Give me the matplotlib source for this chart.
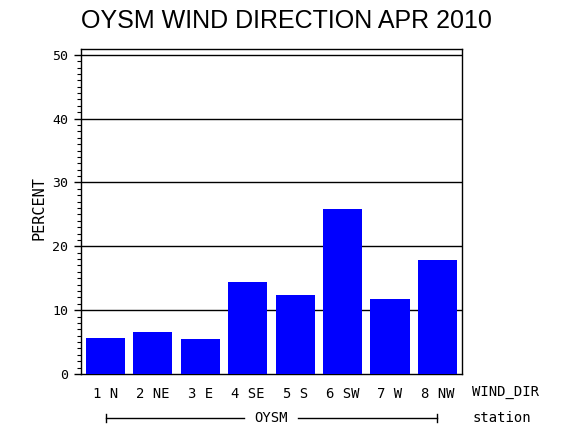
import matplotlib.pyplot as plt
from matplotlib.ticker import MultipleLocator
from matplotlib.transforms import blended_transform_factory

# ======== Data ========
directions = ["1 N", "2 NE", "3 E", "4 SE", "5 S", "6 SW", "7 W", "8 NW"]
percent = [5.6, 6.6, 5.5, 14.4, 12.4, 25.9, 11.8, 17.9]
station = "OYSM"
title = "OYSM WIND DIRECTION APR 2010"

MONO = "DejaVu Sans Mono"

# ======== Figure ========
fig = plt.figure(figsize=(5.7, 4.3), dpi=100)
ax = fig.add_axes([0.142, 0.1302, 0.6685, 0.7558])

xs = list(range(len(directions)))
ax.bar(xs, percent, width=0.825, color="#0000ff", zorder=3)

ax.set_xlim(-0.518, len(directions) - 1 + 0.518)
ax.set_ylim(0, 50.9)

# grid lines at major ticks (not on the zero line)
for y in range(10, 51, 10):
    ax.axhline(y, color="black", linewidth=1.0, zorder=1)

ax.yaxis.set_major_locator(MultipleLocator(10))
ax.yaxis.set_minor_locator(MultipleLocator(1))
ax.tick_params(axis="y", which="major", length=5, width=1, pad=4,
               labelsize=9.5, direction="out")
ax.tick_params(axis="y", which="minor", length=3, width=0.8, direction="out")
for lab in ax.get_yticklabels():
    lab.set_family(MONO)

ax.set_xticks(xs)
ax.set_xticklabels(directions, family=MONO, fontsize=10)
ax.tick_params(axis="x", length=0, pad=9)

for sp in ax.spines.values():
    sp.set_linewidth(1.0)
    sp.set_color("black")

# ======== Texts ========
fig.text(286 / 570, 1 - 21 / 430, title, ha="center", va="center",
         family="Liberation Sans", fontsize=18)
fig.text(39 / 570, 1 - 208 / 430, "PERCENT", rotation=90, ha="center",
         va="center", family=MONO, fontsize=11)
fig.text(472 / 570, 1 - 392 / 430, "WIND_DIR", ha="left", va="center",
         family=MONO, fontsize=10)
fig.text(473 / 570, 1 - 418 / 430, "station", ha="left", va="center",
         family=MONO, fontsize=10)

# station bracket below the categories
trans = blended_transform_factory(ax.transData, fig.transFigure)
yb = 1 - 418 / 430
tick_h = 4 / 430
x0, x1 = xs[0], xs[-1]
mid = (x0 + x1) / 2
gap = 0.57
ax.plot([x0, mid - gap], [yb, yb], color="black", lw=1, transform=trans,
        clip_on=False)
ax.plot([mid + gap, x1], [yb, yb], color="black", lw=1, transform=trans,
        clip_on=False)
for xe in (x0, x1):
    ax.plot([xe, xe], [yb - tick_h, yb + tick_h], color="black", lw=1,
            transform=trans, clip_on=False)
ax.text(mid, yb, station, transform=trans, ha="center", va="center",
        family=MONO, fontsize=10)

fig.savefig("out.png", dpi=100)
